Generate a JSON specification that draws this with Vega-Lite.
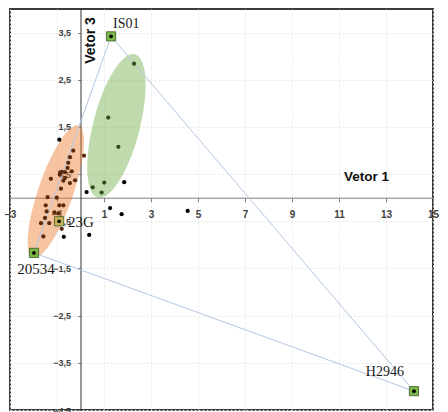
{
  "$schema": "https://vega.github.io/schema/vega-lite/v6.json",
  "width": 423,
  "height": 401,
  "autosize": "none",
  "padding": {"left": 10, "top": 9, "right": 15, "bottom": 2},
  "background": "white",
  "config": {"view": {"stroke": "#3a3a3a", "strokeWidth": 2}, "font": "Liberation Sans"},
  "datasets": {
    "ellipses": [
      {"name": "orange", "x": -1.05, "y": 0.13},
      {"name": "green", "x": 1.53, "y": 1.52}
    ],
    "hull": [
      {"x": 1.30, "y": 3.42, "k": 1},
      {"x": 14.19, "y": -4.10, "k": 2},
      {"x": -1.98, "y": -1.17, "k": 3},
      {"x": 1.30, "y": 3.42, "k": 4}
    ],
    "dots": [
      {"x": -0.31, "y": 1.00, "g": "o"},
      {"x": 0.15, "y": 0.89, "g": "o"},
      {"x": -0.45, "y": 0.86, "g": "o"},
      {"x": -0.52, "y": 0.74, "g": "o"},
      {"x": -0.55, "y": 0.63, "g": "o"},
      {"x": -0.87, "y": 0.53, "g": "o"},
      {"x": -0.80, "y": 0.55, "g": "o"},
      {"x": -0.88, "y": 0.49, "g": "o"},
      {"x": -0.66, "y": 0.54, "g": "o"},
      {"x": -0.37, "y": 0.56, "g": "o"},
      {"x": -0.66, "y": 0.42, "g": "o"},
      {"x": -0.73, "y": 0.36, "g": "o"},
      {"x": -0.45, "y": 0.31, "g": "o"},
      {"x": -1.26, "y": 0.40, "g": "o"},
      {"x": -0.23, "y": 0.37, "g": "o"},
      {"x": -0.83, "y": 0.19, "g": "o"},
      {"x": -1.40, "y": 0.01, "g": "o"},
      {"x": -1.01, "y": 0.00, "g": "o"},
      {"x": -1.48, "y": -0.16, "g": "o"},
      {"x": -0.90, "y": -0.16, "g": "o"},
      {"x": -0.73, "y": -0.16, "g": "o"},
      {"x": -1.44, "y": -0.29, "g": "o"},
      {"x": -1.11, "y": -0.31, "g": "o"},
      {"x": -0.94, "y": -0.33, "g": "o"},
      {"x": -1.51, "y": -0.43, "g": "o"},
      {"x": -1.68, "y": -0.54, "g": "o"},
      {"x": -1.33, "y": -0.54, "g": "o"},
      {"x": -0.80, "y": -0.66, "g": "o"},
      {"x": -1.58, "y": -0.82, "g": "o"},
      {"x": 2.28, "y": 2.84, "g": "g"},
      {"x": 1.18, "y": 1.70, "g": "g"},
      {"x": 1.61, "y": 1.08, "g": "g"},
      {"x": 0.52, "y": 0.22, "g": "g"},
      {"x": 1.01, "y": 0.32, "g": "g"},
      {"x": 0.90, "y": 0.11, "g": "g"},
      {"x": -0.90, "y": 1.23, "g": "k"},
      {"x": 0.26, "y": 0.12, "g": "k"},
      {"x": 1.86, "y": 0.33, "g": "k"},
      {"x": 1.26, "y": -0.22, "g": "k"},
      {"x": 1.75, "y": -0.35, "g": "k"},
      {"x": 4.56, "y": -0.28, "g": "k"},
      {"x": 0.37, "y": -0.79, "g": "k"},
      {"x": -0.71, "y": -0.83, "g": "k"}
    ],
    "specials": [
      {"label": "IS01", "x": 1.30, "y": 3.42, "t": "g"},
      {"label": "H2946", "x": 14.19, "y": -4.10, "t": "g"},
      {"label": "20534", "x": -1.98, "y": -1.17, "t": "g"},
      {"label": "23G", "x": -0.91, "y": -0.50, "t": "y"}
    ]
  },
  "encoding": {
    "x": {
      "field": "x",
      "type": "quantitative",
      "scale": {"domain": [-3, 15], "nice": false, "zero": false},
      "axis": {
        "orient": "bottom",
        "offset": -212.3,
        "values": [-3, -1, 1, 3, 5, 7, 9, 11, 13, 15],
        "format": "d",
        "labelFlush": false,
        "labelOverlap": false,
        "labelFont": "Liberation Sans",
        "labelFontWeight": "bold",
        "labelFontSize": 10,
        "labelColor": "#404040",
        "labelPadding": 8,
        "tickSize": 4,
        "tickColor": "#808080",
        "domainColor": "#7f7f7f",
        "grid": true,
        "gridDash": [2, 2],
        "gridColor": "#e8e8e8",
        "title": "Vetor 1",
        "titleFont": "Liberation Sans",
        "titleFontWeight": "bold",
        "titleFontSize": 13.5,
        "titleColor": "#111111",
        "titleX": 356,
        "titleY": -21,
        "titleAlign": "center",
        "titleBaseline": "middle",
        "titleAngle": 0
      }
    },
    "y": {
      "field": "y",
      "type": "quantitative",
      "scale": {"domain": [-4.5, 4], "nice": false, "zero": false},
      "axis": {
        "orient": "left",
        "offset": -70.5,
        "values": [3.5, 2.5, 1.5, 0.5, -0.5, -1.5, -2.5, -3.5, -4.5],
        "labelExpr": "replace(format(datum.value, '.1f'), '.', ',')",
        "labelOverlap": false,
        "labelFlush": false,
        "labelFont": "Liberation Sans",
        "labelFontWeight": "bold",
        "labelFontSize": 9,
        "labelColor": "#404040",
        "labelPadding": 7,
        "tickSize": 3,
        "tickColor": "#808080",
        "domainColor": "#303030",
        "grid": true,
        "gridDash": [2, 2],
        "gridColor": "#e8e8e8",
        "title": "Vetor 3",
        "titleFont": "Liberation Sans",
        "titleFontWeight": "bold",
        "titleFontSize": 14,
        "titleColor": "#111111",
        "titleX": 9.5,
        "titleY": 31,
        "titleAlign": "center",
        "titleBaseline": "middle",
        "titleAngle": -90
      }
    }
  },
  "layer": [
    {
      "data": {"name": "ellipses"},
      "transform": [{"filter": "datum.name === 'orange'"}],
      "mark": {
        "type": "point",
        "filled": true,
        "shape": "M 0 -1 C 0.138 -1 0.25 -0.5523 0.25 0 C 0.25 0.5523 0.138 1 0 1 C -0.138 1 -0.25 0.5523 -0.25 0 C -0.25 -0.5523 -0.138 -1 0 -1 Z",
        "size": 19600,
        "angle": 19,
        "color": "#ED7D31",
        "opacity": 0.45,
        "strokeWidth": 0
      }
    },
    {
      "data": {"name": "ellipses"},
      "transform": [{"filter": "datum.name === 'green'"}],
      "mark": {
        "type": "point",
        "filled": true,
        "shape": "M 0 -1 C 0.174 -1 0.315 -0.5523 0.315 0 C 0.315 0.5523 0.174 1 0 1 C -0.174 1 -0.315 0.5523 -0.315 0 C -0.315 -0.5523 -0.174 -1 0 -1 Z",
        "size": 21904,
        "angle": 14.5,
        "color": "#70AD47",
        "opacity": 0.45,
        "strokeWidth": 0
      }
    },
    {
      "data": {"name": "hull"},
      "mark": {"type": "line", "color": "#b4c7e7", "strokeWidth": 1},
      "encoding": {"order": {"field": "k", "type": "quantitative"}}
    },
    {
      "data": {"name": "dots"},
      "mark": {"type": "point", "filled": true, "size": 18, "opacity": 1},
      "encoding": {
        "color": {
          "field": "g",
          "type": "nominal",
          "scale": {"domain": ["o", "g", "k"], "range": ["#5a2a0c", "#2e4d1c", "#000000"]},
          "legend": null
        }
      }
    },
    {
      "data": {"name": "specials"},
      "mark": {"type": "point", "shape": "square", "filled": true, "size": 85, "opacity": 1, "stroke": "#3d5a25", "strokeWidth": 0.8},
      "encoding": {
        "fill": {
          "field": "t",
          "type": "nominal",
          "scale": {"domain": ["g", "y"], "range": ["#7ab648", "#c8b45a"]},
          "legend": null
        }
      }
    },
    {
      "data": {"name": "specials"},
      "mark": {"type": "point", "filled": true, "size": 14, "color": "#000000", "opacity": 1}
    },
    {
      "data": {"name": "specials"},
      "transform": [{"filter": "datum.label === 'IS01'"}],
      "mark": {"type": "text", "font": "Liberation Serif", "fontSize": 14, "color": "#1a1a1a", "align": "left", "baseline": "middle", "dx": 2, "dy": -12},
      "encoding": {"text": {"field": "label"}}
    },
    {
      "data": {"name": "specials"},
      "transform": [{"filter": "datum.label === '23G'"}],
      "mark": {"type": "text", "font": "Liberation Serif", "fontSize": 15, "color": "#1a1a1a", "align": "left", "baseline": "middle", "dx": 9, "dy": 1},
      "encoding": {"text": {"field": "label"}}
    },
    {
      "data": {"name": "specials"},
      "transform": [{"filter": "datum.label === '20534'"}],
      "mark": {"type": "text", "font": "Liberation Serif", "fontSize": 15, "color": "#1a1a1a", "align": "center", "baseline": "middle", "dx": 2, "dy": 16},
      "encoding": {"text": {"field": "label"}}
    },
    {
      "data": {"name": "specials"},
      "transform": [{"filter": "datum.label === 'H2946'"}],
      "mark": {"type": "text", "font": "Liberation Serif", "fontSize": 14, "color": "#1a1a1a", "align": "right", "baseline": "middle", "dx": -10, "dy": -19},
      "encoding": {"text": {"field": "label"}}
    }
  ]
}
